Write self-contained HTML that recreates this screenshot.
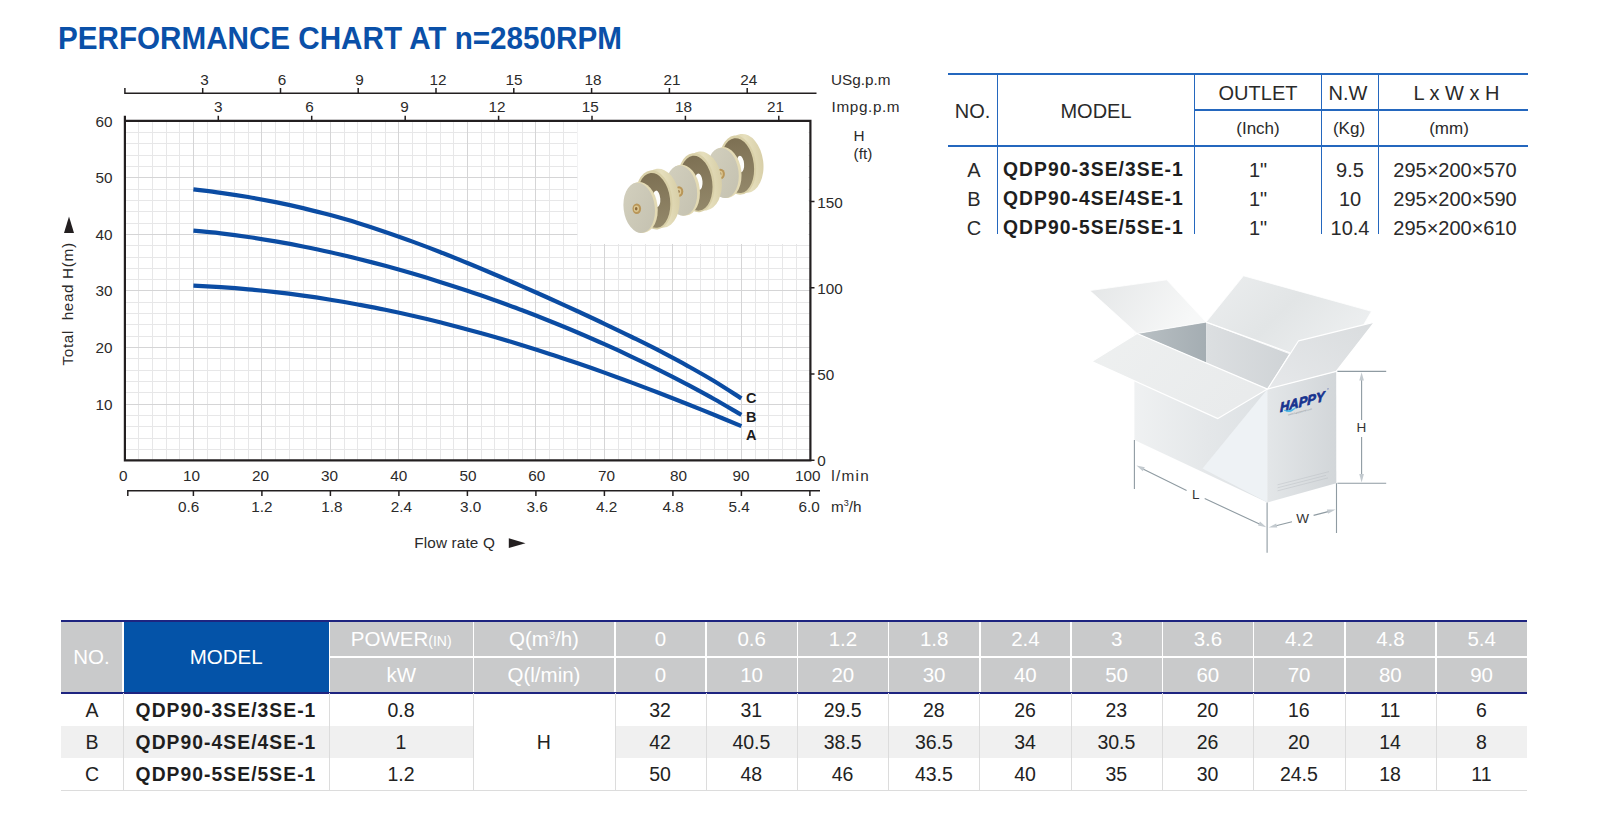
<!DOCTYPE html>
<html lang="en"><head><meta charset="utf-8"><title>Performance chart at n=2850RPM</title>
<style>
html,body{margin:0;padding:0;background:#fff;}
body{width:1600px;height:838px;position:relative;overflow:hidden;font-family:"Liberation Sans",sans-serif;color:#222;}
#art{position:absolute;left:0;top:0;}
h1{position:absolute;left:58.2px;top:18.9px;margin:0;font-size:32.2px;line-height:38px;font-weight:bold;color:#0a50a8;white-space:nowrap;letter-spacing:0;transform:scaleX(0.9205);transform-origin:0 0;}

.t{position:absolute;white-space:nowrap;}
/* top-right spec table */
#spec{position:absolute;left:948px;top:73px;width:580px;height:162px;}
#spec .hl{position:absolute;height:1.6px;background:#2467be;}
#spec .vl{position:absolute;width:1.6px;background:#2467be;top:0;height:160.5px;}
#spec .c{position:absolute;text-align:center;color:#2a2a2a;font-size:20px;line-height:24px;white-space:nowrap;}
#spec .u{font-size:17px;}
#spec .b{font-weight:bold;color:#1e1e1e;text-align:left;font-size:19.3px;letter-spacing:1.05px;}
/* bottom performance table */
#perf{position:absolute;left:61px;top:620px;width:1466px;height:172px;}
#perf .hd{position:absolute;background:#c9cacb;color:#fff;text-align:center;font-size:20.5px;white-space:nowrap;}
#perf .hd.blue{background:#0453a8;}
#perf .row{position:absolute;left:0;width:1466px;height:32px;}
#perf .cell{position:absolute;top:0;height:32px;line-height:33px;text-align:center;font-size:19.5px;color:#222;white-space:nowrap;}
#perf .cell.b{font-weight:bold;font-size:19.3px;color:#1e1e1e;letter-spacing:1.05px;}
#perf .sep{position:absolute;width:1px;background:#dcdcdc;top:73px;height:97px;}

</style></head><body>
<h1 id="title">PERFORMANCE CHART AT n=2850RPM</h1>
<svg id="art" width="1600" height="838" viewBox="0 0 1600 838">
<rect x="124.9" y="121.2" width="685" height="339.5" fill="#fff"/>
<g id="grid" shape-rendering="crispEdges">
<path d="M138.6 121.2V460.7M152.3 121.2V460.7M166 121.2V460.7M179.7 121.2V460.7M207.1 121.2V460.7M220.8 121.2V460.7M234.5 121.2V460.7M248.2 121.2V460.7M275.6 121.2V460.7M289.3 121.2V460.7M303 121.2V460.7M316.7 121.2V460.7M344.1 121.2V460.7M357.8 121.2V460.7M371.5 121.2V460.7M385.2 121.2V460.7M412.6 121.2V460.7M426.3 121.2V460.7M440 121.2V460.7M453.7 121.2V460.7M481.1 121.2V460.7M494.8 121.2V460.7M508.5 121.2V460.7M522.2 121.2V460.7M549.6 121.2V460.7M563.3 121.2V460.7M577 121.2V460.7M590.7 121.2V460.7M618.1 121.2V460.7M631.8 121.2V460.7M645.5 121.2V460.7M659.2 121.2V460.7M686.6 121.2V460.7M700.3 121.2V460.7M714 121.2V460.7M727.7 121.2V460.7M755.1 121.2V460.7M768.8 121.2V460.7M782.5 121.2V460.7M796.2 121.2V460.7M124.9 449.4H809.9M124.9 438.1H809.9M124.9 426.8H809.9M124.9 415.4H809.9M124.9 392.8H809.9M124.9 381.5H809.9M124.9 370.2H809.9M124.9 358.9H809.9M124.9 336.2H809.9M124.9 324.9H809.9M124.9 313.6H809.9M124.9 302.3H809.9M124.9 279.6H809.9M124.9 268.3H809.9M124.9 257H809.9M124.9 245.7H809.9M124.9 223H809.9M124.9 211.7H809.9M124.9 200.4H809.9M124.9 189.1H809.9M124.9 166.5H809.9M124.9 155.1H809.9M124.9 143.8H809.9M124.9 132.5H809.9" stroke="#e7e7e8" stroke-width="1" fill="none"/>
<path d="M193.4 121.2V460.7M261.9 121.2V460.7M330.4 121.2V460.7M398.9 121.2V460.7M467.4 121.2V460.7M535.9 121.2V460.7M604.4 121.2V460.7M672.9 121.2V460.7M741.4 121.2V460.7M124.9 404.1H809.9M124.9 347.5H809.9M124.9 290.9H809.9M124.9 234.4H809.9M124.9 177.8H809.9" stroke="#d5d5d6" stroke-width="1" fill="none"/>
</g>
<rect x="577.5" y="121" width="231" height="123" fill="#fff"/>
<defs>
<linearGradient id="iRim" x1="0" y1="0" x2="1" y2="0"><stop offset="0" stop-color="#cfc49a"/><stop offset="0.6" stop-color="#e6dfbd"/><stop offset="1" stop-color="#d8cfa8"/></linearGradient>
<linearGradient id="iDark" x1="0" y1="0" x2="0" y2="1"><stop offset="0" stop-color="#7d7053"/><stop offset="1" stop-color="#93886a"/></linearGradient>
<linearGradient id="iFace" x1="0" y1="0" x2="1" y2="1"><stop offset="0" stop-color="#d3d0be"/><stop offset="1" stop-color="#c4c1b0"/></linearGradient>
</defs>
<g id="impellers">
<g transform="translate(83.8 -34.8)">
<ellipse cx="660.5" cy="198.2" rx="19" ry="29.6" transform="rotate(-7 660.5 198.2)" fill="url(#iRim)"/>
<ellipse cx="654" cy="199.9" rx="18.2" ry="29.7" transform="rotate(-7 654 199.9)" fill="#d9d0a8"/>
<ellipse cx="653.9" cy="200.4" rx="16.2" ry="27.6" transform="rotate(-7 653.9 200.4)" fill="url(#iDark)"/>
<ellipse cx="656.6" cy="198.8" rx="3.7" ry="8.2" transform="rotate(-5 656.6 198.8)" fill="#fdfdfb"/>
<ellipse cx="641" cy="207.4" rx="16.6" ry="25.6" transform="rotate(-7 641 207.4)" fill="#e3dab4"/>
<ellipse cx="639.2" cy="207.8" rx="15.6" ry="25.2" transform="rotate(-7 639.2 207.8)" fill="url(#iFace)"/>
<ellipse cx="636.8" cy="208.8" rx="4.3" ry="5.3" fill="#b99658"/>
<ellipse cx="636.4" cy="208.8" rx="2.6" ry="3.3" fill="#dcc792"/>
<ellipse cx="636.2" cy="208.8" rx="1.3" ry="1.7" fill="#8c6b3c"/>
</g>
<g transform="translate(42.2 -17.2)">
<ellipse cx="660.5" cy="198.2" rx="19" ry="29.6" transform="rotate(-7 660.5 198.2)" fill="url(#iRim)"/>
<ellipse cx="654" cy="199.9" rx="18.2" ry="29.7" transform="rotate(-7 654 199.9)" fill="#d9d0a8"/>
<ellipse cx="653.9" cy="200.4" rx="16.2" ry="27.6" transform="rotate(-7 653.9 200.4)" fill="url(#iDark)"/>
<ellipse cx="656.6" cy="198.8" rx="3.7" ry="8.2" transform="rotate(-5 656.6 198.8)" fill="#fdfdfb"/>
<ellipse cx="641" cy="207.4" rx="16.6" ry="25.6" transform="rotate(-7 641 207.4)" fill="#e3dab4"/>
<ellipse cx="639.2" cy="207.8" rx="15.6" ry="25.2" transform="rotate(-7 639.2 207.8)" fill="url(#iFace)"/>
<ellipse cx="636.8" cy="208.8" rx="4.3" ry="5.3" fill="#b99658"/>
<ellipse cx="636.4" cy="208.8" rx="2.6" ry="3.3" fill="#dcc792"/>
<ellipse cx="636.2" cy="208.8" rx="1.3" ry="1.7" fill="#8c6b3c"/>
</g>
<g transform="translate(0.0 0.0)">
<ellipse cx="660.5" cy="198.2" rx="19" ry="29.6" transform="rotate(-7 660.5 198.2)" fill="url(#iRim)"/>
<ellipse cx="654" cy="199.9" rx="18.2" ry="29.7" transform="rotate(-7 654 199.9)" fill="#d9d0a8"/>
<ellipse cx="653.9" cy="200.4" rx="16.2" ry="27.6" transform="rotate(-7 653.9 200.4)" fill="url(#iDark)"/>
<ellipse cx="656.6" cy="198.8" rx="3.7" ry="8.2" transform="rotate(-5 656.6 198.8)" fill="#fdfdfb"/>
<ellipse cx="641" cy="207.4" rx="16.6" ry="25.6" transform="rotate(-7 641 207.4)" fill="#e3dab4"/>
<ellipse cx="639.2" cy="207.8" rx="15.6" ry="25.2" transform="rotate(-7 639.2 207.8)" fill="url(#iFace)"/>
<ellipse cx="636.8" cy="208.8" rx="4.3" ry="5.3" fill="#b99658"/>
<ellipse cx="636.4" cy="208.8" rx="2.6" ry="3.3" fill="#dcc792"/>
<ellipse cx="636.2" cy="208.8" rx="1.3" ry="1.7" fill="#8c6b3c"/>
</g>
</g>
<path d="M193.4 285.7C198 285.9 211.7 286.6 220.8 287.2C229.9 287.8 239.1 288.5 248.2 289.4C257.3 290.2 266.5 291.1 275.6 292.2C284.7 293.2 293.9 294.4 303 295.7C312.1 296.9 321.3 298.3 330.4 299.8C339.5 301.2 348.7 302.8 357.8 304.5C366.9 306.2 376.1 307.9 385.2 309.8C394.3 311.7 403.5 313.7 412.6 315.8C421.7 317.8 430.9 320 440 322.3C449.1 324.6 458.3 326.9 467.4 329.4C476.5 331.9 485.7 334.4 494.8 337C503.9 339.7 513.1 342.4 522.2 345.2C531.3 348 540.5 350.9 549.6 353.9C558.7 356.8 567.9 359.9 577 363C586.1 366.1 595.3 369.3 604.4 372.6C613.5 375.9 622.7 379.2 631.8 382.6C640.9 386 650.1 389.5 659.2 393C668.3 396.5 677.5 400.1 686.6 403.7C695.7 407.3 704.9 411 714 414.7C723.1 418.5 736.8 424.2 741.4 426.1" fill="none" stroke="#0b4ca3" stroke-width="4.2"/>
<path d="M193.4 230.7C198 231.1 211.7 232.3 220.8 233.4C229.9 234.5 239.1 235.7 248.2 237C257.3 238.3 266.5 239.8 275.6 241.4C284.7 242.9 293.9 244.6 303 246.5C312.1 248.3 321.3 250.2 330.4 252.3C339.5 254.3 348.7 256.5 357.8 258.7C366.9 261 376.1 263.4 385.2 265.8C394.3 268.3 403.5 270.9 412.6 273.6C421.7 276.2 430.9 279 440 281.9C449.1 284.7 458.3 287.7 467.4 290.8C476.5 293.8 485.7 297 494.8 300.2C503.9 303.5 513.1 306.8 522.2 310.3C531.3 313.7 540.5 317.3 549.6 321C558.7 324.6 567.9 328.4 577 332.2C586.1 336.1 595.3 340.1 604.4 344.2C613.5 348.2 622.7 352.4 631.8 356.8C640.9 361.1 650.1 365.5 659.2 370.1C668.3 374.6 677.5 379.3 686.6 384.1C695.7 389 704.9 393.9 714 399C723.1 404.1 736.8 412.2 741.4 414.8" fill="none" stroke="#0b4ca3" stroke-width="4.2"/>
<path d="M193.4 189.3C198 189.9 211.7 191.5 220.8 192.8C229.9 194.1 239.1 195.5 248.2 197C257.3 198.6 266.5 200.3 275.6 202.1C284.7 203.9 293.9 205.9 303 208.1C312.1 210.3 321.3 212.6 330.4 215.1C339.5 217.6 348.7 220.2 357.8 223C366.9 225.8 376.1 228.8 385.2 231.9C394.3 235 403.5 238.2 412.6 241.6C421.7 244.9 430.9 248.4 440 252C449.1 255.6 458.3 259.2 467.4 263C476.5 266.7 485.7 270.6 494.8 274.5C503.9 278.3 513.1 282.3 522.2 286.3C531.3 290.3 540.5 294.4 549.6 298.5C558.7 302.6 567.9 306.8 577 311C586.1 315.2 595.3 319.4 604.4 323.8C613.5 328.1 622.7 332.5 631.8 337C640.9 341.5 650.1 346 659.2 350.7C668.3 355.5 677.5 360.3 686.6 365.3C695.7 370.4 704.9 375.5 714 381C723.1 386.6 736.8 395.5 741.4 398.4" fill="none" stroke="#0b4ca3" stroke-width="4.2"/>
<g fill="none" stroke="#231f20" stroke-width="2.2">
<path d="M124.9 115.7V460.4H810.4V120.8H123.8"/>
</g>
<g fill="none" stroke="#231f20" stroke-width="1.5">
<path d="M124.9 88V93.2H816.5M202.7 93.2V88M280.5 93.2V88M358.2 93.2V88M436 93.2V88M513.8 93.2V88M591.6 93.2V88M669.4 93.2V88M747.2 93.2V88"/>
<path d="M218.3 121.2V115.7M311.7 121.2V115.7M405.2 121.2V115.7M498.6 121.2V115.7M592 121.2V115.7M685.4 121.2V115.7M778.8 121.2V115.7"/>
<path d="M809.9 460.2H814.5M809.9 374H814.5M809.9 287.7H814.5M809.9 201.5H814.5"/>
<path d="M127.8 496V490.8H820M193.4 490.8V496M261.9 490.8V496M330.4 490.8V496M398.9 490.8V496M467.4 490.8V496M535.9 490.8V496M604.4 490.8V496M672.9 490.8V496M741.4 490.8V496M809.9 490.8V496"/>
</g>
<g font-family="Liberation Sans, sans-serif" font-size="15.3" fill="#2b2a2a" text-anchor="middle">
<text x="204.4" y="85.2">3</text>
<text x="282.1" y="85.2">6</text>
<text x="359.4" y="85.2">9</text>
<text x="438.1" y="85.2">12</text>
<text x="514.1" y="85.2">15</text>
<text x="593.1" y="85.2">18</text>
<text x="671.9" y="85.2">21</text>
<text x="748.8" y="85.2">24</text>
<text x="218.2" y="112.2">3</text>
<text x="309.6" y="112.2">6</text>
<text x="404.4" y="112.2">9</text>
<text x="496.9" y="112.2">12</text>
<text x="590.2" y="112.2">15</text>
<text x="683.5" y="112.2">18</text>
<text x="775.6" y="112.2">21</text>
<text x="123.3" y="481">0</text>
<text x="191.6" y="481">10</text>
<text x="260.4" y="481">20</text>
<text x="329.6" y="481">30</text>
<text x="398.8" y="481">40</text>
<text x="467.9" y="481">50</text>
<text x="536.8" y="481">60</text>
<text x="606.5" y="481">70</text>
<text x="678.5" y="481">80</text>
<text x="740.9" y="481">90</text>
<text x="807.8" y="481">100</text>
<text x="188.6" y="511.5">0.6</text>
<text x="261.9" y="511.5">1.2</text>
<text x="331.9" y="511.5">1.8</text>
<text x="401.3" y="511.5">2.4</text>
<text x="470.6" y="511.5">3.0</text>
<text x="537.1" y="511.5">3.6</text>
<text x="606.6" y="511.5">4.2</text>
<text x="673.1" y="511.5">4.8</text>
<text x="739.1" y="511.5">5.4</text>
<text x="809.1" y="511.5">6.0</text>
</g>
<g font-family="Liberation Sans, sans-serif" font-size="15.3" fill="#2b2a2a" text-anchor="end">
<text x="112.4" y="409.5">10</text>
<text x="112.4" y="352.9">20</text>
<text x="112.4" y="296.3">30</text>
<text x="112.4" y="239.8">40</text>
<text x="112.4" y="183.2">50</text>
<text x="112.4" y="126.6">60</text>
</g>
<g font-family="Liberation Sans, sans-serif" font-size="15.3" fill="#2b2a2a">
<text x="817.2" y="466.3">0</text>
<text x="817.2" y="380.1">50</text>
<text x="817.2" y="293.8">100</text>
<text x="817.2" y="207.6">150</text>
<text x="831" y="85.2" textLength="59.5" lengthAdjust="spacing">USg.p.m</text>
<text x="831.6" y="112.2" textLength="68" lengthAdjust="spacing">Impg.p.m</text>
<text x="853.6" y="141.3">H</text>
<text x="853.6" y="158.8">(ft)</text>
<text x="831.2" y="481" textLength="37.5" lengthAdjust="spacing">l/min</text>
<text x="831" y="511.5">m<tspan font-size="9" dy="-5.5">3</tspan><tspan dy="5.5">/h</tspan></text>
<text x="414.3" y="548" textLength="80.5" lengthAdjust="spacing">Flow rate Q</text>
<text transform="translate(72.8 365.5) rotate(-90)" textLength="122.5" lengthAdjust="spacing" xml:space="preserve">Total  head H(m)</text>
</g>
<path d="M508.8 538.3L525.5 543.2L508.8 548Z" fill="#231f20"/>
<path d="M64 233L69 216.5L74 233Z" fill="#231f20"/>
<g font-family="Liberation Sans, sans-serif" font-size="14.5" font-weight="bold" fill="#1d1d1d">
<text x="746" y="403">C</text><text x="746" y="421.5">B</text><text x="746" y="439.5">A</text>
</g>
<defs>
<linearGradient id="gL" x1="0" y1="0" x2="1" y2="0"><stop offset="0" stop-color="#eff1f2"/><stop offset="0.55" stop-color="#e4e7e9"/><stop offset="1" stop-color="#dde1e4"/></linearGradient>
<linearGradient id="gR" x1="0" y1="0" x2="1" y2="0"><stop offset="0" stop-color="#e3e6e8"/><stop offset="1" stop-color="#d2d6d9"/></linearGradient>
<linearGradient id="gBL" x1="0" y1="0" x2="1" y2="0.3"><stop offset="0" stop-color="#e4e6e7"/><stop offset="1" stop-color="#f7f8f8"/></linearGradient>
<linearGradient id="gBK" x1="0" y1="0" x2="1" y2="0.6"><stop offset="0" stop-color="#eceeef"/><stop offset="0.5" stop-color="#e2e5e6"/><stop offset="1" stop-color="#eef0f1"/></linearGradient>
<linearGradient id="gIN" x1="0" y1="0" x2="1" y2="0"><stop offset="0" stop-color="#b9c0c4"/><stop offset="1" stop-color="#a4adb2"/></linearGradient>
<linearGradient id="gIB" x1="0" y1="0" x2="1" y2="0"><stop offset="0" stop-color="#dcdfe1"/><stop offset="1" stop-color="#cfd3d6"/></linearGradient>
<linearGradient id="gRF" x1="0" y1="1" x2="1" y2="0"><stop offset="0" stop-color="#e6e8ea"/><stop offset="1" stop-color="#d9dcde"/></linearGradient>
<linearGradient id="gFL" x1="0" y1="0" x2="1" y2="0.4"><stop offset="0" stop-color="#eef0f0"/><stop offset="1" stop-color="#e9ebec"/></linearGradient>
</defs>
<g id="box" stroke-linejoin="round">
<polygon points="1137.1,333.5 1206.1,322.1 1206.1,363.0" fill="url(#gIN)"/>
<polygon points="1206.1,322.1 1289.8,352.7 1267.5,389.1 1206.1,363.0" fill="url(#gIB)"/>
<polygon points="1089.8,290.6 1166.7,279.8 1206.1,322.1 1137.1,333.5" fill="url(#gBL)" stroke="#fff" stroke-width="0.8"/>
<polygon points="1206.1,322.1 1243.5,275.8 1371.5,311.3 1336.2,371.4" fill="url(#gBK)" stroke="#fff" stroke-width="0.8"/>
<path d="M1206.1 322.1L1289.8 352.7" stroke="#fff" stroke-width="1.2" fill="none"/>
<polygon points="1134.4,333.5 1267.5,389.1 1267.5,502.5 1134.4,440.1" fill="url(#gL)"/>
<polygon points="1267.5,389.1 1267.5,502.5 1202.5,468.5" fill="#eef2f5"/>
<polygon points="1267.5,389.1 1336.2,371.4 1336.3,483.2 1267.5,502.5" fill="url(#gR)"/>
<polygon points="1267.5,389.1 1298.6,340.8 1374.5,322.1 1336.2,371.4" fill="url(#gRF)" stroke="#fff" stroke-width="1.2"/>
<polygon points="1091.8,361.5 1137.1,333.5 1267.5,389.1 1217.9,418.6" fill="url(#gFL)" stroke="#fff" stroke-width="1.2"/>
<g transform="translate(1280 412.2) skewY(-14.4)">
<text x="0" y="0" font-family="Liberation Sans, sans-serif" font-weight="bold" font-style="italic" font-size="13.8" fill="#17338f" stroke="#17338f" stroke-width="0.75" stroke-linejoin="round" textLength="44.5" lengthAdjust="spacingAndGlyphs">HAPPY</text>
<circle cx="48" cy="-11" r="0.7" fill="#6a78b5"/>
<path d="M4 -1Q10 2.5 16 -0.8Q11 5 4 -1Z" fill="#3fb4e6" stroke="#3fb4e6" stroke-width="0.6"/>
<text x="8" y="5.6" font-family="Liberation Sans, sans-serif" font-size="2.6" fill="#8a9097" textLength="24">www.happypump.com</text>
<path d="M-2.5 72H49M-2.5 75H46M-2.5 78H48" stroke="#b4babf" stroke-width="0.7" fill="none" opacity="0.55"/>
</g>
<g stroke="#8f9ba2" stroke-width="1.1" fill="none">
<path d="M1134.4 440V489M1267.1 502.5V552.8M1336.5 483.2V533"/>
<path d="M1337.4 371.4H1386.2M1337.4 483.2H1386.2"/>
<path d="M1361.6 378V420M1361.6 437V477"/>
<path d="M1142 468.4L1186.6 490.5M1204.7 498.6L1260 524.2"/>
<path d="M1275 526L1292 521.8M1313.6 515.4L1330 511.1"/>
</g>
<g fill="#c3cacf">
<path d="M1361.6 372.2L1359.3 380.5H1363.9Z"/><path d="M1361.6 482.4L1359.3 474H1363.9Z"/>
<path d="M1136.5 465.6L1144.8 467.2L1142.8 471.2Z"/><path d="M1266.3 527.2L1258 525.6L1260 521.6Z"/>
<path d="M1268.6 527.6L1276.2 523.4L1277.3 527.6Z"/><path d="M1335.6 509.6L1328 513.8L1326.9 509.6Z"/>
</g>
<g font-family="Liberation Sans, sans-serif" font-size="13.5" fill="#333" text-anchor="middle">
<text x="1361.4" y="432">H</text><text x="1195.8" y="498.8">L</text><text x="1302.6" y="523.3">W</text>
</g>
</g>
</svg>
<div id="spec">
<div class="hl" style="left:0;top:0;width:580px"></div>
<div class="hl" style="left:246px;top:36.3px;width:334px"></div>
<div class="hl" style="left:0;top:72px;width:580px"></div>
<div class="vl" style="left:48.5px"></div>
<div class="vl" style="left:245.5px"></div>
<div class="vl" style="left:372.5px"></div>
<div class="vl" style="left:429.5px"></div>
<div class="c" style="left:0px;width:49px;top:26px">NO.</div>
<div class="c" style="left:50px;width:196px;top:26px">MODEL</div>
<div class="c" style="left:247px;width:126px;top:8px">OUTLET</div>
<div class="c" style="left:372px;width:56px;top:8px">N.W</div>
<div class="c" style="left:434px;width:149px;top:8px">L x W x H</div>
<div class="c u" style="left:247px;width:126px;top:44px">(Inch)</div>
<div class="c u" style="left:373px;width:56px;top:44px">(Kg)</div>
<div class="c u" style="left:431px;width:140px;top:44px">(mm)</div>
<div class="c" style="left:0px;width:52px;top:85px">A</div>
<div class="c b" style="left:55px;width:190px;top:85px">QDP90-3SE/3SE-1</div>
<div class="c" style="left:247px;width:126px;top:85px">1"</div>
<div class="c" style="left:374px;width:56px;top:85px">9.5</div>
<div class="c" style="left:432.5px;width:149px;top:85px">295×200×570</div>
<div class="c" style="left:0px;width:52px;top:114px">B</div>
<div class="c b" style="left:55px;width:190px;top:114px">QDP90-4SE/4SE-1</div>
<div class="c" style="left:247px;width:126px;top:114px">1"</div>
<div class="c" style="left:374px;width:56px;top:114px">10</div>
<div class="c" style="left:432.5px;width:149px;top:114px">295×200×590</div>
<div class="c" style="left:0px;width:52px;top:143px">C</div>
<div class="c b" style="left:55px;width:190px;top:143px">QDP90-5SE/5SE-1</div>
<div class="c" style="left:247px;width:126px;top:143px">1"</div>
<div class="c" style="left:374px;width:56px;top:143px">10.4</div>
<div class="c" style="left:432.5px;width:149px;top:143px">295×200×610</div>
</div>
<div id="perf">
<div style="position:absolute;left:0;top:0;width:1466px;height:2px;background:#1e2480"></div>
<div style="position:absolute;left:0;top:71.5px;width:1466px;height:2px;background:#1e2480"></div>
<div class="hd" style="left:0px;top:2px;width:61px;height:69.5px;line-height:69.5px">NO.</div>
<div class="hd blue" style="left:63px;top:2px;width:204.5px;height:69.5px;line-height:69.5px">MODEL</div>
<div class="hd" style="left:269px;top:2px;width:142.5px;height:33.5px;line-height:33.5px">POWER<span style="font-size:14px">(IN)</span></div>
<div class="hd" style="left:269px;top:37.5px;width:142.5px;height:34.0px;line-height:34.0px">kW</div>
<div class="hd" style="left:413px;top:2px;width:140.0px;height:33.5px;line-height:33.5px">Q(m<sup style="font-size:11px;line-height:0;vertical-align:7px">3</sup>/h)</div>
<div class="hd" style="left:413px;top:37.5px;width:140.0px;height:34.0px;line-height:34.0px">Q(l/min)</div>
<div class="hd" style="left:554.5px;top:2px;width:89.75px;height:33.5px;line-height:33.5px">0</div>
<div class="hd" style="left:554.5px;top:37.5px;width:89.75px;height:34.0px;line-height:34.0px">0</div>
<div class="hd" style="left:645.75px;top:2px;width:89.75px;height:33.5px;line-height:33.5px">0.6</div>
<div class="hd" style="left:645.75px;top:37.5px;width:89.75px;height:34.0px;line-height:34.0px">10</div>
<div class="hd" style="left:737.0px;top:2px;width:89.75px;height:33.5px;line-height:33.5px">1.2</div>
<div class="hd" style="left:737.0px;top:37.5px;width:89.75px;height:34.0px;line-height:34.0px">20</div>
<div class="hd" style="left:828.25px;top:2px;width:89.75px;height:33.5px;line-height:33.5px">1.8</div>
<div class="hd" style="left:828.25px;top:37.5px;width:89.75px;height:34.0px;line-height:34.0px">30</div>
<div class="hd" style="left:919.5px;top:2px;width:89.75px;height:33.5px;line-height:33.5px">2.4</div>
<div class="hd" style="left:919.5px;top:37.5px;width:89.75px;height:34.0px;line-height:34.0px">40</div>
<div class="hd" style="left:1010.75px;top:2px;width:89.75px;height:33.5px;line-height:33.5px">3</div>
<div class="hd" style="left:1010.75px;top:37.5px;width:89.75px;height:34.0px;line-height:34.0px">50</div>
<div class="hd" style="left:1102.0px;top:2px;width:89.75px;height:33.5px;line-height:33.5px">3.6</div>
<div class="hd" style="left:1102.0px;top:37.5px;width:89.75px;height:34.0px;line-height:34.0px">60</div>
<div class="hd" style="left:1193.25px;top:2px;width:89.75px;height:33.5px;line-height:33.5px">4.2</div>
<div class="hd" style="left:1193.25px;top:37.5px;width:89.75px;height:34.0px;line-height:34.0px">70</div>
<div class="hd" style="left:1284.5px;top:2px;width:89.75px;height:33.5px;line-height:33.5px">4.8</div>
<div class="hd" style="left:1284.5px;top:37.5px;width:89.75px;height:34.0px;line-height:34.0px">80</div>
<div class="hd" style="left:1375.75px;top:2px;width:89.75px;height:33.5px;line-height:33.5px">5.4</div>
<div class="hd" style="left:1375.75px;top:37.5px;width:89.75px;height:34.0px;line-height:34.0px">90</div>
<div class="row" style="top:73.5px;background:#fff">
<div class="cell" style="left:0px;width:62px;">A</div>
<div class="cell b" style="left:62px;width:206px;">QDP90-3SE/3SE-1</div>
<div class="cell" style="left:268px;width:144px;">0.8</div>
<div class="cell" style="left:412px;width:141.5px;background:#fff;"></div>
<div class="cell" style="left:553.5px;width:91.25px;">32</div>
<div class="cell" style="left:644.75px;width:91.25px;">31</div>
<div class="cell" style="left:736.0px;width:91.25px;">29.5</div>
<div class="cell" style="left:827.25px;width:91.25px;">28</div>
<div class="cell" style="left:918.5px;width:91.25px;">26</div>
<div class="cell" style="left:1009.75px;width:91.25px;">23</div>
<div class="cell" style="left:1101.0px;width:91.25px;">20</div>
<div class="cell" style="left:1192.25px;width:91.25px;">16</div>
<div class="cell" style="left:1283.5px;width:91.25px;">11</div>
<div class="cell" style="left:1374.75px;width:91.25px;">6</div>
</div>
<div class="row" style="top:105.5px;background:#f0f0f0">
<div class="cell" style="left:0px;width:62px;">B</div>
<div class="cell b" style="left:62px;width:206px;">QDP90-4SE/4SE-1</div>
<div class="cell" style="left:268px;width:144px;">1</div>
<div class="cell" style="left:412px;width:141.5px;background:#fff;">H</div>
<div class="cell" style="left:553.5px;width:91.25px;">42</div>
<div class="cell" style="left:644.75px;width:91.25px;">40.5</div>
<div class="cell" style="left:736.0px;width:91.25px;">38.5</div>
<div class="cell" style="left:827.25px;width:91.25px;">36.5</div>
<div class="cell" style="left:918.5px;width:91.25px;">34</div>
<div class="cell" style="left:1009.75px;width:91.25px;">30.5</div>
<div class="cell" style="left:1101.0px;width:91.25px;">26</div>
<div class="cell" style="left:1192.25px;width:91.25px;">20</div>
<div class="cell" style="left:1283.5px;width:91.25px;">14</div>
<div class="cell" style="left:1374.75px;width:91.25px;">8</div>
</div>
<div class="row" style="top:137.5px;background:#fff">
<div class="cell" style="left:0px;width:62px;">C</div>
<div class="cell b" style="left:62px;width:206px;">QDP90-5SE/5SE-1</div>
<div class="cell" style="left:268px;width:144px;">1.2</div>
<div class="cell" style="left:412px;width:141.5px;background:#fff;"></div>
<div class="cell" style="left:553.5px;width:91.25px;">50</div>
<div class="cell" style="left:644.75px;width:91.25px;">48</div>
<div class="cell" style="left:736.0px;width:91.25px;">46</div>
<div class="cell" style="left:827.25px;width:91.25px;">43.5</div>
<div class="cell" style="left:918.5px;width:91.25px;">40</div>
<div class="cell" style="left:1009.75px;width:91.25px;">35</div>
<div class="cell" style="left:1101.0px;width:91.25px;">30</div>
<div class="cell" style="left:1192.25px;width:91.25px;">24.5</div>
<div class="cell" style="left:1283.5px;width:91.25px;">18</div>
<div class="cell" style="left:1374.75px;width:91.25px;">11</div>
</div>
<div class="sep" style="left:62px"></div>
<div class="sep" style="left:268px"></div>
<div class="sep" style="left:412px"></div>
<div class="sep" style="left:554px"></div>
<div class="sep" style="left:645px"></div>
<div class="sep" style="left:736px"></div>
<div class="sep" style="left:827px"></div>
<div class="sep" style="left:918px"></div>
<div class="sep" style="left:1010px"></div>
<div class="sep" style="left:1101px"></div>
<div class="sep" style="left:1192px"></div>
<div class="sep" style="left:1284px"></div>
<div class="sep" style="left:1375px"></div>
<div style="position:absolute;left:0;top:169.5px;width:1466px;height:1.5px;background:#dcdcdc"></div>
</div>
</body></html>
